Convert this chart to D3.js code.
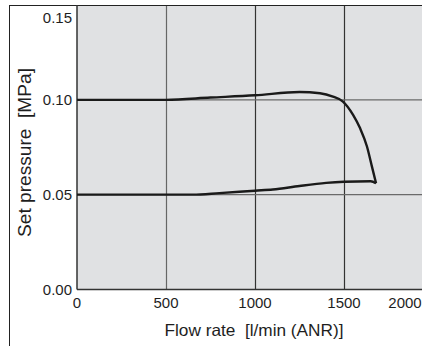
<!DOCTYPE html>
<html><head><meta charset="utf-8">
<script src="https://cdn.jsdelivr.net/npm/d3@7"></script>
<style>body{margin:0;background:#fff}svg{display:block}text{white-space:pre}</style>
</head><body>
<script>
const xTicks = [0, 500, 1000, 1500, 2000];
const yTicks = [0.00, 0.05, 0.10, 0.15];
const yTickLabels = ["0.00", "0.05", "0.10", "0.15"];
const upperFlow = [0, 500, 750, 1000, 1250, 1365, 1438, 1494, 1551, 1590, 1629, 1657, 1680];
const upperPressure = [0.100, 0.100, 0.1012, 0.1024, 0.1041, 0.1035, 0.1017, 0.0991, 0.0921, 0.0851, 0.0754, 0.0648, 0.056];
const lowerFlow = [0, 650, 800, 1000, 1100, 1250, 1400, 1500, 1650, 1680];
const lowerPressure = [0.050, 0.050, 0.0508, 0.0521, 0.0527, 0.0546, 0.0562, 0.0568, 0.0571, 0.056];
const xTitle = "Flow rate  [l/min (ANR)]";
const yTitle = "Set pressure  [MPa]";

const W = 422, H = 346;
const svg = d3.select("body").append("svg").attr("width", W).attr("height", H);
const font = "'Liberation Sans', Arial, sans-serif";

const x = d3.scaleLinear().domain([0, 2000]).range([77, 433]);
const y = d3.scaleLinear().domain([0, 0.15]).range([289.5, 5]);

svg.append("rect").attr("x", x(0)).attr("y", y(0.15)).attr("width", W - x(0)).attr("height", y(0) - y(0.15)).attr("fill", "#e0e1e3");

svg.selectAll(".vg").data(xTicks.filter(d => d > 0 && d < 2000)).enter().append("line")
  .attr("x1", d => Math.round(x(d)) + 0.5).attr("x2", d => Math.round(x(d)) + 0.5)
  .attr("y1", y(0.15)).attr("y2", y(0)).attr("stroke", d => d === 500 ? "#666" : "#333").attr("stroke-width", 1.2);
svg.selectAll(".hg").data(yTicks.filter(d => d > 0 && d < 0.15)).enter().append("line")
  .attr("x1", x(0)).attr("x2", W).attr("y1", d => y(d)).attr("y2", d => y(d))
  .attr("stroke", "#6a6a6a").attr("stroke-width", 1.4);

svg.append("line").attr("x1", 9.5).attr("x2", 9.5).attr("y1", 5).attr("y2", H).attr("stroke", "#222").attr("stroke-width", 1);
svg.append("line").attr("x1", 9).attr("x2", W).attr("y1", 5.5).attr("y2", 5.5).attr("stroke", "#222").attr("stroke-width", 1.2);

svg.append("line").attr("x1", x(0)).attr("x2", x(0)).attr("y1", y(0.15)).attr("y2", y(0)).attr("stroke", "#333").attr("stroke-width", 1.5);
svg.append("line").attr("x1", x(0)).attr("x2", W).attr("y1", y(0)).attr("y2", y(0)).attr("stroke", "#333").attr("stroke-width", 1.5);

const line = d3.line().x(d => x(d[0])).y(d => y(d[1])).curve(d3.curveMonotoneX);
svg.append("path").attr("d", line(upperFlow.map((f, i) => [f, upperPressure[i]])))
  .attr("fill", "none").attr("stroke", "#1a1a1a").attr("stroke-width", 2.4);
svg.append("path").attr("d", line(lowerFlow.map((f, i) => [f, lowerPressure[i]])))
  .attr("fill", "none").attr("stroke", "#1a1a1a").attr("stroke-width", 2.4);

svg.selectAll(".yl").data(yTicks).enter().append("text")
  .attr("x", 72).attr("y", d => Math.max(y(d), 18)).attr("dy", "0.35em")
  .attr("text-anchor", "end").attr("font-family", font).attr("font-size", 15).attr("fill", "#1e1e1e")
  .text((d, i) => yTickLabels[i]);
svg.selectAll(".xl").data(xTicks).enter().append("text")
  .attr("x", d => Math.min(x(d), 405)).attr("y", 303).attr("dy", "0.35em")
  .attr("text-anchor", "middle").attr("font-family", font).attr("font-size", 15).attr("fill", "#1e1e1e")
  .text(d => d);

svg.append("text").attr("x", 254).attr("y", 330).attr("dy", "0.35em").attr("text-anchor", "middle")
  .attr("font-family", font).attr("font-size", 16.5).attr("fill", "#1e1e1e")
  .attr("textLength", 179).attr("lengthAdjust", "spacingAndGlyphs").text(xTitle);
svg.append("text").attr("transform", "translate(25,152.5) rotate(-90)").attr("dy", "0.35em").attr("text-anchor", "middle")
  .attr("font-family", font).attr("font-size", 18).attr("fill", "#1e1e1e")
  .attr("textLength", 169).attr("lengthAdjust", "spacingAndGlyphs").text(yTitle);
</script>
</body></html>
